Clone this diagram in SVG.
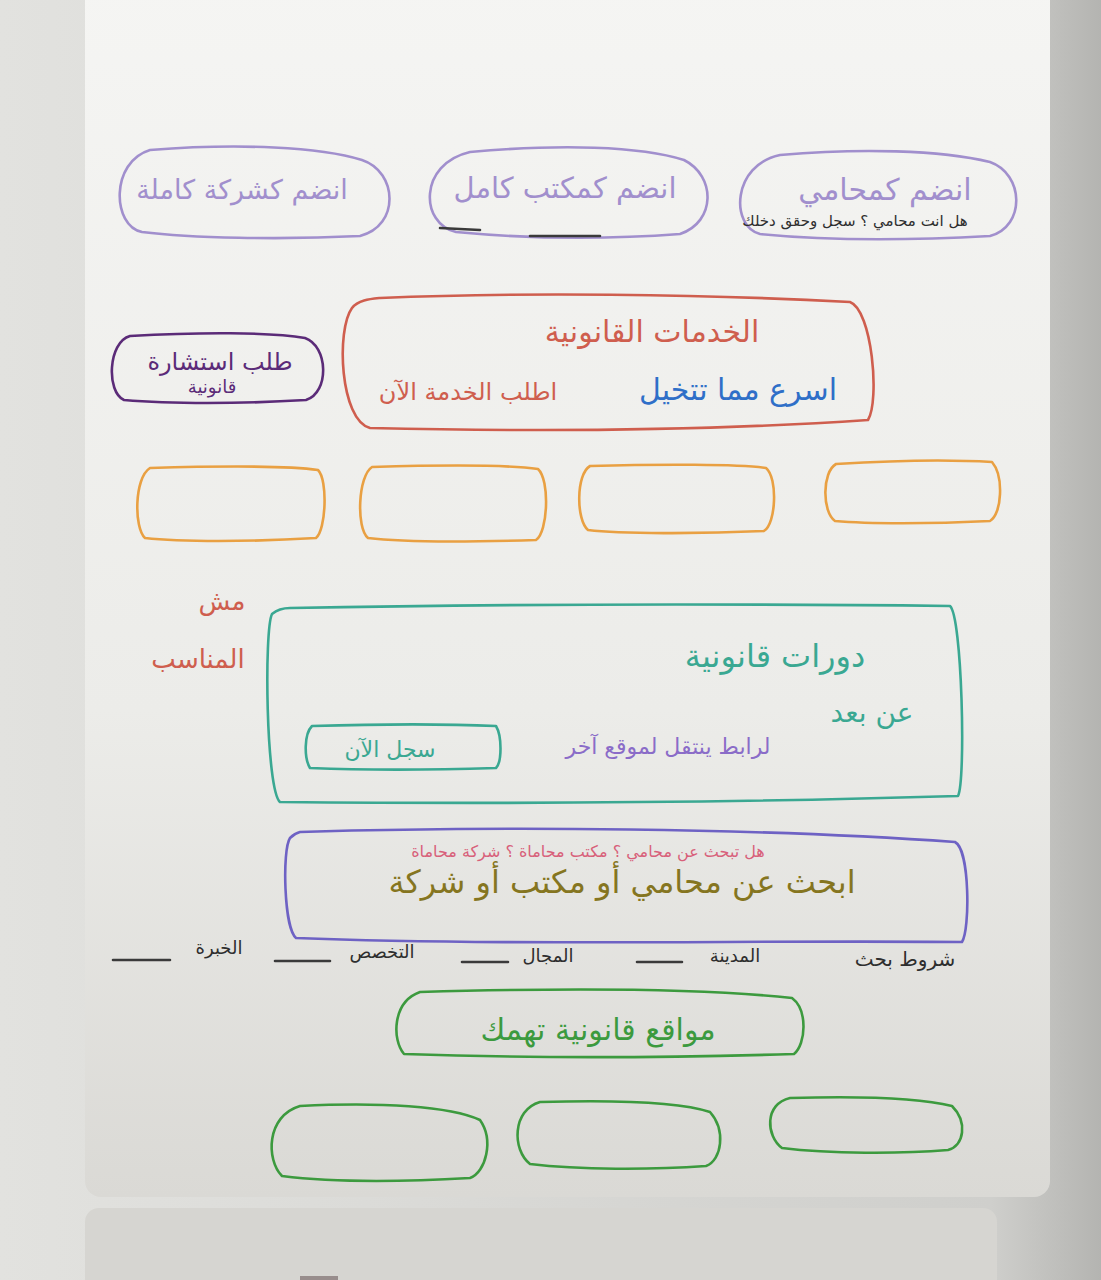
<svg xmlns="http://www.w3.org/2000/svg" width="1101" height="1280" viewBox="0 0 1101 1280">
  <defs>
    <linearGradient id="bg" x1="0" y1="0" x2="1" y2="0">
      <stop offset="0" stop-color="#e2e2df"/>
      <stop offset="0.9" stop-color="#cfcfcc"/>
      <stop offset="1" stop-color="#b4b4b1"/>
    </linearGradient>
    <linearGradient id="sheet" x1="0" y1="0" x2="0" y2="1">
      <stop offset="0" stop-color="#f5f5f3"/>
      <stop offset="0.6" stop-color="#ecece9"/>
      <stop offset="1" stop-color="#dad9d5"/>
    </linearGradient>
    <style>
      .ink { fill: none; stroke-width: 2.6; stroke-linecap: round; stroke-linejoin: round; }
      .lav { stroke: #a18fcd; }
      .plum { stroke: #5b2b78; }
      .red { stroke: #cf5e4e; }
      .orange { stroke: #e9a042; }
      .teal { stroke: #3aa892; }
      .indigo { stroke: #6e62c4; }
      .green { stroke: #3c9a3e; }
      .dark { stroke: #3a3a3a; }
      text { font-family: "DejaVu Sans", "Noto Sans", sans-serif; text-anchor: middle; }
      .t-lav { fill: #a18fcd; }
      .t-plum { fill: #5b2b78; }
      .t-red { fill: #cf5e4e; }
      .t-blue { fill: #2f6fc8; }
      .t-teal { fill: #3aa892; }
      .t-purple { fill: #8a6cc8; }
      .t-pink { fill: #d8607a; }
      .t-olive { fill: #857520; }
      .t-green { fill: #3c9a3e; }
      .t-dark { fill: #2e2e2e; }
    </style>
  </defs>

  <!-- screen and paper sheets -->
  <rect x="0" y="0" width="1101" height="1280" fill="url(#bg)"/>
  <rect x="85" y="-20" width="965" height="1217" rx="16" fill="url(#sheet)"/>
  <rect x="85" y="1208" width="912" height="100" rx="14" fill="#d6d5d1"/>
  <rect x="300" y="1276" width="38" height="6" fill="#6e5e5e" opacity="0.6"/>

  <!-- join options -->
  <g id="join-company">
    <path class="ink lav" d="M150 150 C240 143 320 147 362 160 C398 172 400 226 360 236 C280 240 190 238 142 232 C112 226 110 162 150 150 Z"/>
    <text class="t-lav" x="242" y="199" font-size="27">انضم كشركة كاملة</text>
  </g>
  <g id="join-office">
    <path class="ink lav" d="M470 152 C560 144 640 146 684 160 C716 176 716 222 680 234 C600 240 520 238 456 232 C420 224 418 164 470 152 Z"/>
    <path class="ink dark" d="M440 228 L480 230 M530 236 L600 236" stroke-width="2"/>
    <text class="t-lav" x="565" y="198" font-size="29">انضم كمكتب كامل</text>
  </g>
  <g id="join-lawyer">
    <path class="ink lav" d="M780 155 C860 148 940 150 990 162 C1024 174 1026 226 990 236 C900 241 820 240 760 234 C730 226 732 165 780 155 Z"/>
    <text class="t-lav" x="885" y="200" font-size="30">انضم كمحامي</text>
    <text class="t-dark" x="855" y="226" font-size="15">هل انت محامي ؟ سجل وحقق دخلك</text>
  </g>

  <!-- consultation request -->
  <g id="consultation">
    <path class="ink plum" d="M130 336 C200 332 270 332 305 338 C328 346 330 392 306 400 C240 404 170 404 124 400 C106 392 108 342 130 336 Z"/>
    <text class="t-plum" x="220" y="370" font-size="24">طلب استشارة</text>
    <text class="t-plum" x="212" y="393" font-size="18">قانونية</text>
  </g>

  <!-- legal services -->
  <g id="legal-services">
    <path class="ink red" d="M380 298 C520 292 700 294 850 302 C872 310 880 400 868 420 C720 430 540 432 370 428 C340 420 336 330 352 308 C358 300 370 299 380 298 Z"/>
    <text class="t-red" x="652" y="342" font-size="30">الخدمات القانونية</text>
    <text class="t-blue" x="738" y="400" font-size="30">اسرع مما تتخيل</text>
    <text class="t-red" x="468" y="400" font-size="24">اطلب الخدمة الآن</text>
  </g>

  <!-- service cards -->
  <g id="service-1"><path class="ink orange" d="M150 468 C220 466 290 466 318 470 C328 480 326 530 316 538 C250 542 180 542 145 538 C134 528 134 478 150 468 Z"/></g>
  <g id="service-2"><path class="ink orange" d="M372 467 C440 465 510 465 538 469 C550 480 548 532 536 540 C470 542 400 542 368 538 C356 528 358 476 372 467 Z"/></g>
  <g id="service-3"><path class="ink orange" d="M590 466 C660 464 740 464 766 468 C778 478 776 524 764 531 C700 534 620 534 588 530 C576 520 576 474 590 466 Z"/></g>
  <g id="service-4"><path class="ink orange" d="M836 464 C900 460 960 460 992 462 C1004 476 1002 514 990 521 C930 524 868 524 835 521 C822 512 822 472 836 464 Z"/></g>

  <!-- margin note -->
  <g id="note">
    <text class="t-red" x="222" y="610" font-size="26">مش</text>
    <text class="t-red" x="198" y="668" font-size="26">المناسب</text>
  </g>

  <!-- online courses -->
  <g id="courses">
    <path class="ink teal" d="M290 608 C500 604 760 604 950 606 C962 616 966 780 958 796 C760 802 500 804 280 802 C266 790 264 630 272 614 C278 609 284 608 290 608 Z"/>
    <text class="t-teal" x="775" y="667" font-size="32">دورات قانونية</text>
    <text class="t-teal" x="872" y="722" font-size="28">عن بعد</text>
    <text class="t-purple" x="668" y="754" font-size="22">لرابط ينتقل لموقع آخر</text>
    <g id="register-now">
      <path class="ink teal" d="M312 726 C380 724 450 724 496 726 C502 736 502 762 496 768 C430 770 360 770 310 768 C304 758 304 734 312 726 Z"/>
      <text class="t-teal" x="390" y="757" font-size="22">سجل الآن</text>
    </g>
  </g>

  <!-- search -->
  <g id="search">
    <path class="ink indigo" d="M300 832 C500 826 760 828 955 842 C970 850 970 930 962 942 C760 940 500 946 296 938 C284 928 282 850 290 838 C294 834 296 833 300 832 Z"/>
    <text class="t-pink" x="588" y="857" font-size="16">هل تبحث عن محامي ؟ مكتب محاماة ؟ شركة محاماة</text>
    <text class="t-olive" x="622" y="893" font-size="32">ابحث عن محامي أو مكتب أو شركة</text>
  </g>

  <!-- search filters -->
  <g id="filters">
    <text class="t-dark" x="905" y="966" font-size="20">شروط بحث</text>
    <text class="t-dark" x="735" y="962" font-size="18">المدينة</text>
    <text class="t-dark" x="548" y="962" font-size="18">المجال</text>
    <text class="t-dark" x="382" y="958" font-size="18">التخصص</text>
    <text class="t-dark" x="219" y="954" font-size="18">الخبرة</text>
    <path class="ink dark" stroke-width="1.8" d="M637 962 L682 962 M462 962 L508 962 M275 961 L330 961 M113 960 L170 960"/>
  </g>

  <!-- legal websites -->
  <g id="websites">
    <path class="ink green" d="M420 992 C560 988 700 988 792 998 C808 1010 806 1044 794 1054 C660 1058 520 1058 404 1054 C392 1040 392 1002 420 992 Z"/>
    <text class="t-green" x="598" y="1040" font-size="30">مواقع قانونية تهمك</text>
  </g>
  <g id="site-1"><path class="ink green" d="M300 1106 C380 1102 450 1106 480 1120 C494 1140 486 1172 470 1178 C400 1182 330 1182 282 1176 C266 1160 266 1116 300 1106 Z"/></g>
  <g id="site-2"><path class="ink green" d="M540 1102 C610 1100 680 1102 710 1112 C726 1130 722 1160 706 1166 C650 1170 580 1170 530 1164 C512 1150 512 1110 540 1102 Z"/></g>
  <g id="site-3"><path class="ink green" d="M790 1098 C860 1096 920 1098 952 1106 C968 1122 964 1146 948 1150 C900 1154 830 1154 782 1148 C766 1136 764 1104 790 1098 Z"/></g>
</svg>
